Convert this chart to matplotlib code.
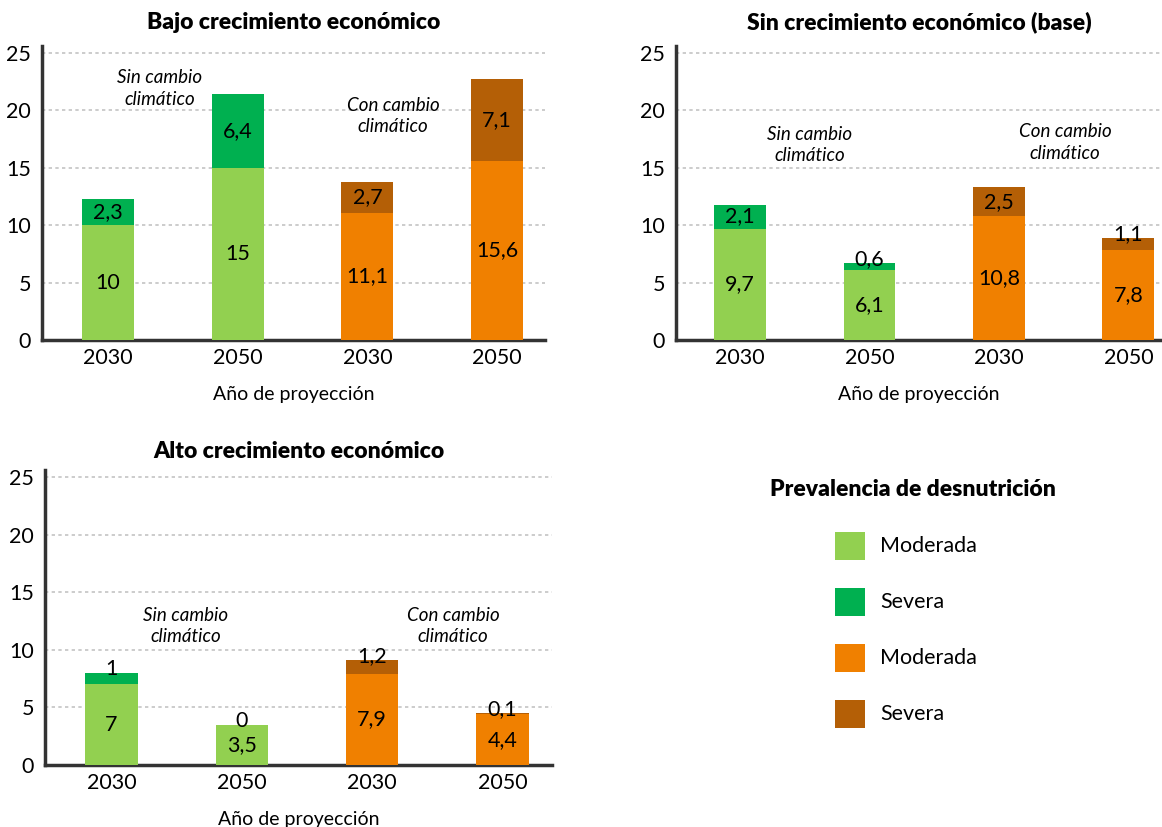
import matplotlib
matplotlib.use("Agg")
import matplotlib.pyplot as plt
from matplotlib.patches import Rectangle

plt.rcParams['font.family'] = ['Lato', 'DejaVu Sans']

years = ["2030", "2050", "2030", "2050"]
titles = ["Bajo crecimiento económico", "Sin crecimiento económico (base)", "Alto crecimiento económico"]
# Sin cambio climático (green) then Con cambio climático (orange)
moderada = [
    [10, 15, 11.1, 15.6],
    [9.7, 6.1, 10.8, 7.8],
    [7, 3.5, 7.9, 4.4],
]
severa = [
    [2.3, 6.4, 2.7, 7.1],
    [2.1, 0.6, 2.5, 1.1],
    [1, 0, 1.2, 0.1],
]
legend_labels = ["Moderada", "Severa", "Moderada", "Severa"]
legend_title = "Prevalencia de desnutrición"
xlabel = "Año de proyección"
ann_sin = "Sin cambio\nclimático"
ann_con = "Con cambio\nclimático"

legend_colors = ["#92D050", "#00B050", "#F08000", "#B45F06"]
c_mod = ["#92D050", "#92D050", "#F08000", "#F08000"]
c_sev = ["#00B050", "#00B050", "#B45F06", "#B45F06"]

W, H = 1162, 827
fig = plt.figure(figsize=(W / 100, H / 100), dpi=100)

def px_axes(left, right, bottom, top):
    return fig.add_axes([left / W, 1 - bottom / H, (right - left) / W, (bottom - top) / H])

axes_px = [
    (42, 545, 340, 340 - 25.6 * 11.48),
    (676, 1162, 340, 340 - 25.6 * 11.48),
    (45, 552, 765, 765 - 25.6 * 11.52),
]
xlims = [(-0.51, 3.37), (-0.495, 3.26), (-0.51, 3.38)]
title_pads = [12, 12, 9]
ann_pos = [((0.4, 21.9), (2.2, 19.5)), ((0.54, 17.0), (2.51, 17.2)), ((0.57, 12.1), (2.62, 12.1))]

for i in range(3):
    ax = px_axes(*axes_px[i])
    x = range(4)
    ax.bar(x, moderada[i], width=0.4, color=c_mod, zorder=3)
    ax.bar(x, severa[i], bottom=moderada[i], width=0.4, color=c_sev, zorder=3)
    for j in range(4):
        m = moderada[i][j]
        s = severa[i][j]
        ax.text(j, m / 2, f"{m:g}".replace(".", ","), ha="center", va="center", fontsize=15.5, zorder=4)
        if s >= 1.5:
            ys = m + s / 2
        else:
            ys = m + s + 0.35
        ax.text(j, ys, f"{s:g}".replace(".", ","), ha="center", va="center", fontsize=15.5, zorder=4)
    ax.set_xlim(*xlims[i])
    ax.set_ylim(0, 25.6)
    ax.set_yticks([0, 5, 10, 15, 20, 25])
    ax.set_xticks(list(x))
    ax.set_xticklabels(years)
    ax.tick_params(length=0, labelsize=15.5, pad=6)
    ax.tick_params(axis='y', pad=8)
    for sp in ["top", "right"]:
        ax.spines[sp].set_visible(False)
    for sp in ["left", "bottom"]:
        ax.spines[sp].set_color("#333333")
        ax.spines[sp].set_linewidth(2.5)
    ax.yaxis.grid(True, color="#c4c4c4", linestyle=(0, (2, 2)), linewidth=1.2, zorder=0)
    ax.set_axisbelow(True)
    ax.set_xlabel(xlabel, fontsize=14, labelpad=13)
    ax.set_title(titles[i], fontsize=16.5, fontweight="heavy", pad=title_pads[i])
    (xs, ys_), (xc, yc) = ann_pos[i]
    ax.text(xs, ys_, ann_sin, ha="center", va="center", fontsize=13.5, style="italic", linespacing=1.3)
    ax.text(xc, yc, ann_con, ha="center", va="center", fontsize=13.5, style="italic", linespacing=1.3)

fig.text(913 / W, 1 - 489 / H, legend_title, ha="center", va="center", fontsize=16.5, fontweight="heavy")
for k, (lab, col) in enumerate(zip(legend_labels, legend_colors)):
    yc = 546 + 56 * k
    fig.patches.append(Rectangle((835 / W, 1 - (yc + 14) / H), 30 / W, 28 / H,
                                 transform=fig.transFigure, facecolor=col, edgecolor="none"))
    fig.text(880 / W, 1 - yc / H, lab, ha="left", va="center", fontsize=15.5)

fig.savefig("out.png", dpi=100)
